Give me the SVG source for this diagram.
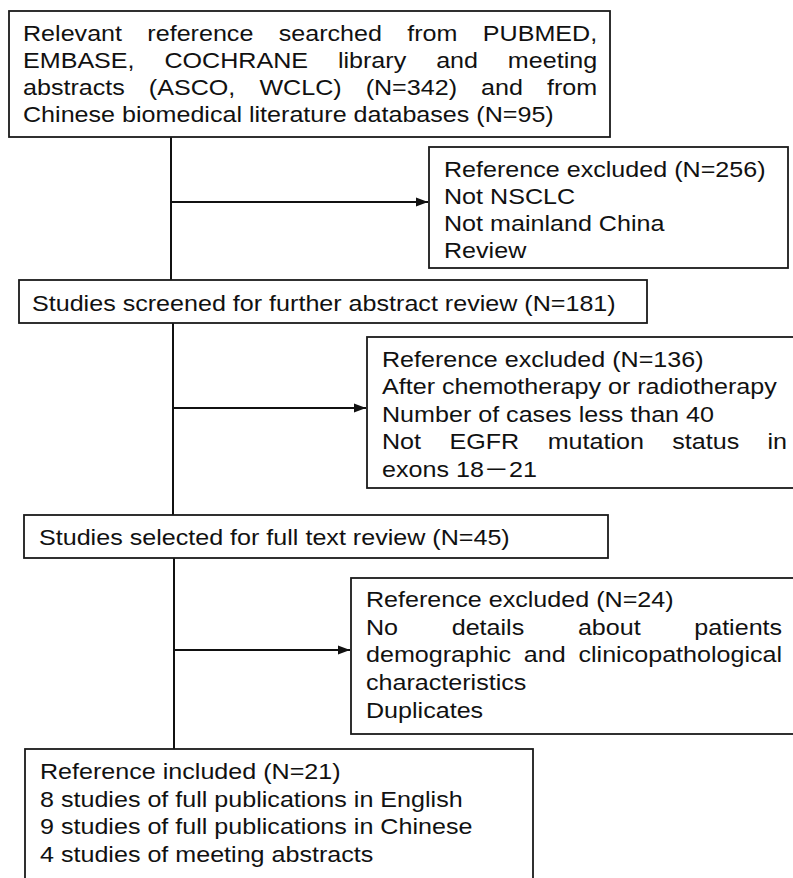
<svg xmlns="http://www.w3.org/2000/svg" width="793" height="878" viewBox="0 0 793 878">
<style>
.box{fill:#fff;stroke:#1a1a1a;stroke-width:1.8}
.t{font-family:"Liberation Sans",Arial,sans-serif;font-size:22px;fill:#111}
.c{stroke:#111;stroke-width:2;fill:none}
</style>
<defs>
<marker id="ah" markerUnits="userSpaceOnUse" markerWidth="13" markerHeight="10" refX="12" refY="5" orient="auto">
<path d="M0,0.5 L12,5 L0,9.5 z" fill="#111"/>
</marker>
</defs>
<rect width="793" height="878" fill="#fff"/>
<g id="connectors">
<line class="c" x1="171" y1="137" x2="171" y2="280"/>
<line class="c" x1="171" y1="202" x2="428" y2="202" marker-end="url(#ah)"/>
<line class="c" x1="173" y1="323" x2="173" y2="515"/>
<line class="c" x1="173" y1="408" x2="366" y2="408" marker-end="url(#ah)"/>
<line class="c" x1="174" y1="558" x2="174" y2="749"/>
<line class="c" x1="174" y1="650" x2="350" y2="650" marker-end="url(#ah)"/>
</g>
<g id="n-search">
<rect class="box" x="9" y="11" width="601" height="126"/>
<g transform="matrix(1.141,0,0,1,23,0)">
<text class="t" y="41"><tspan x="0">Relevant</tspan><tspan x="109">reference</tspan><tspan x="224.1">searched</tspan><tspan x="336.8">from</tspan><tspan x="503.2" text-anchor="end">PUBMED,</tspan></text>
<text class="t" y="68"><tspan x="0">EMBASE,</tspan><tspan x="124">COCHRANE</tspan><tspan x="276">library</tspan><tspan x="362.1">and</tspan><tspan x="503.2" text-anchor="end">meeting</tspan></text>
<text class="t" y="95"><tspan x="0">abstracts</tspan><tspan x="110.3">(ASCO,</tspan><tspan x="207.2">WCLC)</tspan><tspan x="300.3">(N=342)</tspan><tspan x="401.4">and</tspan><tspan x="503.2" text-anchor="end">from</tspan></text>
<text class="t" x="0" y="122">Chinese biomedical literature databases (N=95)</text>
</g>
</g>
<g id="n-excl1">
<rect class="box" x="429" y="147" width="359" height="121"/>
<g transform="matrix(1.141,0,0,1,444,0)">
<text class="t" x="0" y="177">Reference excluded (N=256)</text>
<text class="t" x="0" y="204">Not NSCLC</text>
<text class="t" x="0" y="231">Not mainland China</text>
<text class="t" x="0" y="258">Review</text>
</g>
</g>
<g id="n-screened">
<rect class="box" x="19" y="280" width="628" height="43"/>
<g transform="matrix(1.141,0,0,1,32,0)">
<text class="t" x="0" y="311">Studies screened for further abstract review (N=181)</text>
</g>
</g>
<g id="n-excl2">
<rect class="box" x="367" y="337" width="432" height="151"/>
<g transform="matrix(1.141,0,0,1,382,0)">
<text class="t" x="0" y="367">Reference excluded (N=136)</text>
<text class="t" x="0" y="394.5">After chemotherapy or radiotherapy</text>
<text class="t" x="0" y="422">Number of cases less than 40</text>
<text class="t" y="449.5"><tspan x="0">Not</tspan><tspan x="59.2">EGFR</tspan><tspan x="145.2">mutation</tspan><tspan x="254.4">status</tspan><tspan x="355" text-anchor="end">in</tspan></text>
<text class="t" x="0" y="477">exons 18<tspan font-family="'Noto Sans CJK SC',sans-serif">－</tspan>21</text>
</g>
</g>
<g id="n-fulltext">
<rect class="box" x="24" y="515" width="584" height="43"/>
<g transform="matrix(1.141,0,0,1,39,0)">
<text class="t" x="0" y="545">Studies selected for full text review (N=45)</text>
</g>
</g>
<g id="n-excl3">
<rect class="box" x="351" y="578" width="448" height="156"/>
<g transform="matrix(1.141,0,0,1,366,0)">
<text class="t" x="0" y="607">Reference excluded (N=24)</text>
<text class="t" y="635"><tspan x="0">No</tspan><tspan x="75.1">details</tspan><tspan x="185.7">about</tspan><tspan x="364.7" text-anchor="end">patients</tspan></text>
<text class="t" y="662.5"><tspan x="0">demographic</tspan><tspan x="138.3">and</tspan><tspan x="364.7" text-anchor="end">clinicopathological</tspan></text>
<text class="t" x="0" y="690">characteristics</text>
<text class="t" x="0" y="718">Duplicates</text>
</g>
</g>
<g id="n-included">
<rect class="box" x="25" y="749" width="508" height="140"/>
<g transform="matrix(1.141,0,0,1,40,0)">
<text class="t" x="0" y="779">Reference included (N=21)</text>
<text class="t" x="0" y="807">8 studies of full publications in English</text>
<text class="t" x="0" y="834">9 studies of full publications in Chinese</text>
<text class="t" x="0" y="862">4 studies of meeting abstracts</text>
</g>
</g>
</svg>
